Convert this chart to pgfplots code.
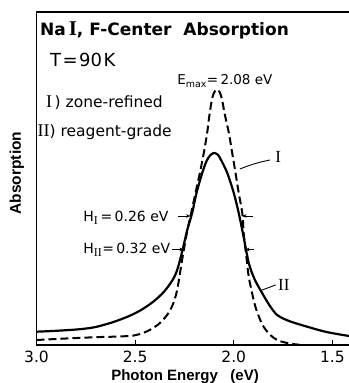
\documentclass[border=0pt]{standalone}
\usepackage{fontspec}
\setmainfont{DejaVu Sans}
\newfontfamily\helv{Liberation Sans}
\newfontfamily\rom{Liberation Serif}
\usepackage{pgfplots}
\pgfplotsset{compat=1.18}
\usetikzlibrary{arrows.meta}

\newcommand\fs[1]{\fontsize{#1bp}{#1bp}\selectfont}

% Absorption spectra (photon energy in eV, absorption in arbitrary units)
\pgfplotstableread{
E      A
3.000  13.3
2.900  14.2
2.780  15.8
2.700  18.0
2.610  23.0
2.530  29.0
2.470  35.0
2.410  43.0
2.355  53.0
2.310  65.0
2.287  75.0
2.262  93.0
2.236  115.0
2.211  132.0
2.189  152.0
2.160  172.0
2.138  184.0
2.118  190.0
2.100  192.0
2.082  190.5
2.067  186.0
2.033  172.0
2.000  152.0
1.975  132.0
1.952  110.0
1.924  82.0
1.895  66.0
1.865  55.0
1.820  40.0
1.780  30.0
1.720  24.0
1.628  18.3
1.530  13.0
1.416  9.0
}\reagent

\pgfplotstableread{
E      A
3.000  5.0
2.850  6.5
2.700  7.8
2.580  8.5
2.507  9.5
2.460  12.0
2.422  15.5
2.380  21.0
2.338  30.0
2.310  40.0
2.287  55.0
2.262  85.0
2.238  112.0
2.216  132.0
2.194  152.0
2.172  172.0
2.152  192.0
2.135  212.0
2.122  232.0
2.108  248.0
2.095  254.0
2.084  255.5
2.072  253.0
2.060  246.0
2.047  232.0
2.025  212.0
2.008  192.0
1.991  172.0
1.975  152.0
1.957  132.0
1.949  110.0
1.936  88.0
1.924  68.0
1.905  50.0
1.890  38.0
1.870  27.0
1.848  18.0
1.815  10.0
1.780  5.0
1.740  2.5
1.700  1.0
1.660  0.0
}\zonerefined

\begin{document}
\begin{tikzpicture}
\begin{axis}[
  scale only axis, width=312.5bp, height=333bp,
  x dir=reverse, xmin=1.416, xmax=3.0, ymin=0, ymax=333,
  axis x line*=bottom, axis y line*=left,
  axis line style={line width=1.1bp, -},
  xtick={1.5,2.0,2.5,3.0}, xticklabels={1.5,2.0,2.5,3.0},
  ytick=\empty,
  xtick align=inside, major tick length=5bp,
  every tick/.style={line width=0.9bp, black},
  xticklabel style={anchor=base, yshift=-17.5bp, font=\fs{15.5}},
  clip=false,
]
% top frame line
\draw[line width=1.1bp] (rel axis cs:0,1) -- (rel axis cs:1,1);

% curve II (reagent-grade), solid
\addplot[line width=2.2bp, smooth, tension=0.5] table[x=E, y=A] {\reagent};
% curve I (zone-refined), dashed
\addplot[line width=2bp, dash pattern=on 8bp off 4bp, smooth, tension=0.5] table[x=E, y=A] {\zonerefined};

% axis labels
\node[anchor=base, font=\helv\bfseries\fs{15}] at (axis cs:2.247,-35) {Photon Energy\ \ \ (eV)};
\node[anchor=base, rotate=90, font=\helv\bfseries\fs{15.5}] at (axis cs:3.0786,172) {Absorption};

% title and legend text
\node[anchor=base west, inner sep=0, font=\bfseries\fs{17}] at (axis cs:2.982,309)
  {Na\,{\rom\bfseries\fs{21}I}, F-Center\ \ Absorption};
\node[anchor=base west, inner sep=0, font=\fs{18}] at (axis cs:2.932,278)
  {T\kern1.5bp=\kern1.5bp90\kern1.5bp K};
\node[anchor=base west, inner sep=0, font=\fs{13.5}] at (axis cs:2.287,260)
  {E\textsubscript{max}=\,2.08 eV};
\node[anchor=base west, inner sep=0, font=\fs{15.5}] at (axis cs:2.952,237)
  {{\rom\fs{18}I}\,) zone-refined};
\node[anchor=base west, inner sep=0, font=\fs{15.5}] at (axis cs:2.995,208)
  {{\rom\fs{18}II}) reagent-grade};

% half widths
\node[anchor=base west, inner sep=0, font=\fs{14}] at (axis cs:2.764,123.3)
  {H\textsubscript{\rom\fs{12}I}\,=\,0.26\ eV};
\node[anchor=base west, inner sep=0, font=\fs{14}] at (axis cs:2.764,91)
  {H\textsubscript{\rom\fs{12}II}=\,0.32 eV};
\draw[line width=0.9bp, -{Stealth[length=4.5bp,width=3.5bp]}] (axis cs:2.283,129) -- (axis cs:2.219,129);
\draw[line width=0.9bp, -{Stealth[length=4.5bp,width=3.5bp]}] (axis cs:1.903,129) -- (axis cs:1.958,129);
\draw[line width=0.9bp, -{Stealth[length=4.5bp,width=3.5bp]}] (axis cs:2.313,95.5) -- (axis cs:2.252,95.5);
\draw[line width=0.9bp, -{Stealth[length=4.5bp,width=3.5bp]}] (axis cs:1.898,95.5) -- (axis cs:1.943,95.5);

% curve labels
\draw[line width=0.9bp] (axis cs:1.969,176) to[bend left=5] (axis cs:1.817,185);
\node[anchor=base west, inner sep=0, font=\rom\fs{17}] at (axis cs:1.790,182) {I};
\draw[line width=0.9bp] (axis cs:1.856,55) -- (axis cs:1.788,60);
\node[anchor=base west, inner sep=0, font=\rom\fs{17}] at (axis cs:1.776,55) {II};
\end{axis}
\pgfresetboundingbox
\path[use as bounding box] (-36.5bp,-38bp) rectangle (312.5bp,345bp);
\end{tikzpicture}
\end{document}
